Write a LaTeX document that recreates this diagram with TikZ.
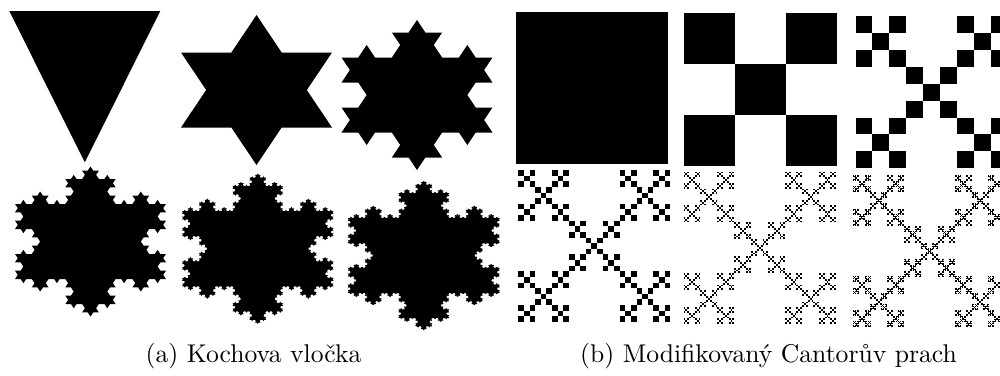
\documentclass[tikz,border=0pt]{standalone}
\usepackage{fontspec}
\usetikzlibrary{lindenmayersystems}
\pgfdeclarelindenmayersystem{Koch}{\rule{F -> F-F++F-F}}
% Koch snowflake: order, step, centre x, centre y, xscale, yscale
\newcommand\kochflake[6]{%
  \begin{scope}[shift={(#3,#4)}, xscale=#5, yscale=#6, shift={(-30pt,-17.3205pt)}]
    \fill[kochfill, l-system={Koch, axiom=F++F++F, order=#1, step=#2, angle=60}]
      (0,0) lindenmayer system -- cycle;
  \end{scope}}
% Modified Cantor dust: level, x, y (bottom left), size
\newcommand\cdust[4]{%
  \ifnum#1=0
    \fill[dustfill] (#2,#3) rectangle ++(#4,#4);
  \else
    \begingroup
    \pgfmathsetmacro\cds{#4/3}%
    \pgfmathtruncatemacro\cdn{#1-1}%
    \pgfmathsetmacro\cdxa{#2+\cds}\pgfmathsetmacro\cdxb{#2+2*\cds}%
    \pgfmathsetmacro\cdya{#3+\cds}\pgfmathsetmacro\cdyb{#3+2*\cds}%
    \edef\cdnext{%
      \noexpand\cdust{\cdn}{#2}{#3}{\cds}%
      \noexpand\cdust{\cdn}{\cdxb}{#3}{\cds}%
      \noexpand\cdust{\cdn}{\cdxa}{\cdya}{\cds}%
      \noexpand\cdust{\cdn}{#2}{\cdyb}{\cds}%
      \noexpand\cdust{\cdn}{\cdxb}{\cdyb}{\cds}}%
    \expandafter\endgroup\cdnext
  \fi}
\begin{document}
\begin{tikzpicture}[x=0.4pt, y=0.4pt,
  kochfill/.style={fill=black},
  dustfill/.style={fill=black},
  caption/.style={font=\fontsize{10.25pt}{12pt}\selectfont, anchor=base, inner sep=0pt}]
\useasboundingbox (0,0) rectangle (1000,375);
\clip (0,0) rectangle (1000,375);
% ---- Koch snowflake ----
\fill[kochfill] (9.3,364) -- (160.3,364) -- (84.8,212.7) -- cycle;
\kochflake{1}{20pt}{256.5}{285}{1.00667}{0.86603}
\kochflake{2}{6.66667pt}{417.0}{280}{1.00667}{0.86603}
\kochflake{3}{2.22222pt}{90.5}{133.5}{1.00667}{0.86603}
\kochflake{4}{0.740741pt}{257.8}{126.3}{1.01}{0.86891}
\kochflake{5}{0.246914pt}{423.8}{119.5}{1.01133}{0.86314}
% ---- Cantor dust ----
\cdust{0}{516}{211.3}{152}
\cdust{1}{684}{209.2}{152.5}
\cdust{2}{855.5}{206.7}{152.3}
\cdust{3}{518.3}{53}{152}
\cdust{4}{683.5}{50.9}{152.5}
\cdust{5}{853.3}{48}{152}
% ---- captions ----
\node[caption] (capa) at (253.5,13) {(a) Kochova vločka};
\node[caption] (capb) at (768.5,13) {(b) Modifikovaný Cantorův prach};
\end{tikzpicture}
\end{document}
